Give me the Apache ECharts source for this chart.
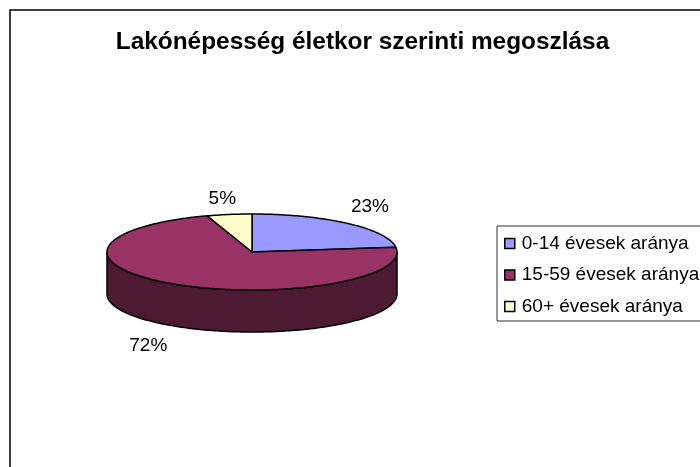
<!DOCTYPE html>
<html>
<head>
<meta charset="utf-8">
<style>
    html, body { margin: 0; padding: 0; background: #fff; }
    #main { width: 700px; height: 467px; }
</style>
</head>
<body>
<div id="main"></div>
<script src="https://cdn.jsdelivr.net/npm/echarts@6/dist/echarts.min.js"></script>
<script>
const chartTitle = 'Lakónépesség életkor szerinti megoszlása'
const categories = ['0-14 évesek aránya', '15-59 évesek aránya', '60+ évesek aránya']
const shares = [23, 72, 5]
const colors = ['#9999ff', '#993366', '#ffffcc']
const wallColors = ['#4c4c80', '#4c1a33', '#808066']

const font = '"Liberation Sans", Arial, sans-serif'
const cx = 252, cy = 252, rx = 145, ry = 38, depth = 42
// label shift from the rim point at the middle of each slice
const labelShift = [[22, -17], [-26, 62], [-7, -16]]
const total = shares.reduce((a, b) => a + b, 0)

// ellipse point for an angle in degrees, clockwise from 12 o'clock
function rim(deg, dy) {
    const t = deg * Math.PI / 180
    return [cx + rx * Math.sin(t), cy - ry * Math.cos(t) + (dy || 0)]
}

function arc(from, to, dy) {
    const pts = []
    for (let d = from; d < to; d += 1) pts.push(rim(d, dy))
    pts.push(rim(to, dy))
    return pts
}

const series = categories.map((name, i) => {
    const before = shares.slice(0, i).reduce((a, b) => a + b, 0)
    return {
        name: name,
        type: 'custom',
        coordinateSystem: 'none',
        itemStyle: { color: colors[i] },
        silent: true,
        data: [shares[i]],
        renderItem: function (params, api) {
            const start = before / total * 360
            const end = start + api.value(0) / total * 360
            const mid = rim((start + end) / 2)
            const children = []
            // only the front half of the rim shows a wall
            const wFrom = Math.max(start, 90), wTo = Math.min(end, 270)
            if (wTo > wFrom) {
                children.push({
                    type: 'polygon',
                    shape: { points: arc(wFrom, wTo, 0).concat(arc(wFrom, wTo, depth).reverse()) },
                    style: { fill: wallColors[i], stroke: '#000', lineWidth: 1.5 }
                })
            }
            children.push({
                type: 'polygon',
                shape: { points: [[cx, cy]].concat(arc(start, end, 0)) },
                style: { fill: colors[i], stroke: '#000', lineWidth: 1.5, lineJoin: 'round' }
            })
            children.push({
                type: 'text',
                style: {
                    x: mid[0] + labelShift[i][0],
                    y: mid[1] + labelShift[i][1],
                    text: api.value(0) + '%',
                    font: '19px ' + font,
                    fill: '#000',
                    align: 'center',
                    verticalAlign: 'middle'
                }
            })
            return { type: 'group', children: children }
        }
    }
})

const option = {
    animation: false,
    backgroundColor: '#fff',
    title: {
        text: chartTitle,
        left: 357.5,
        top: 25,
        textAlign: 'center',
        textStyle: { fontFamily: font, fontSize: 24.4, fontWeight: 'bold', color: '#000' }
    },
    legend: {
        orient: 'vertical',
        left: 497,
        top: 226,
        icon: 'rect',
        itemWidth: 10,
        itemHeight: 10,
        itemGap: 12.5,
        padding: [8, 12, 5, 7],
        borderColor: '#333',
        borderWidth: 1,
        selectedMode: false,
        itemStyle: { borderColor: '#000', borderWidth: 1.5 },
        textStyle: { fontFamily: font, fontSize: 19, color: '#000', padding: [0, 0, 0, 2] },
        data: categories
    },
    graphic: [{
        type: 'polyline',
        silent: true,
        shape: { points: [[10, 467], [10, 10], [700, 10]] },
        style: { stroke: '#000', lineWidth: 1.5, fill: null }
    }],
    series: series
}

const myChart = echarts.init(document.getElementById('main'))
myChart.setOption(option)
</script>
</body>
</html>
